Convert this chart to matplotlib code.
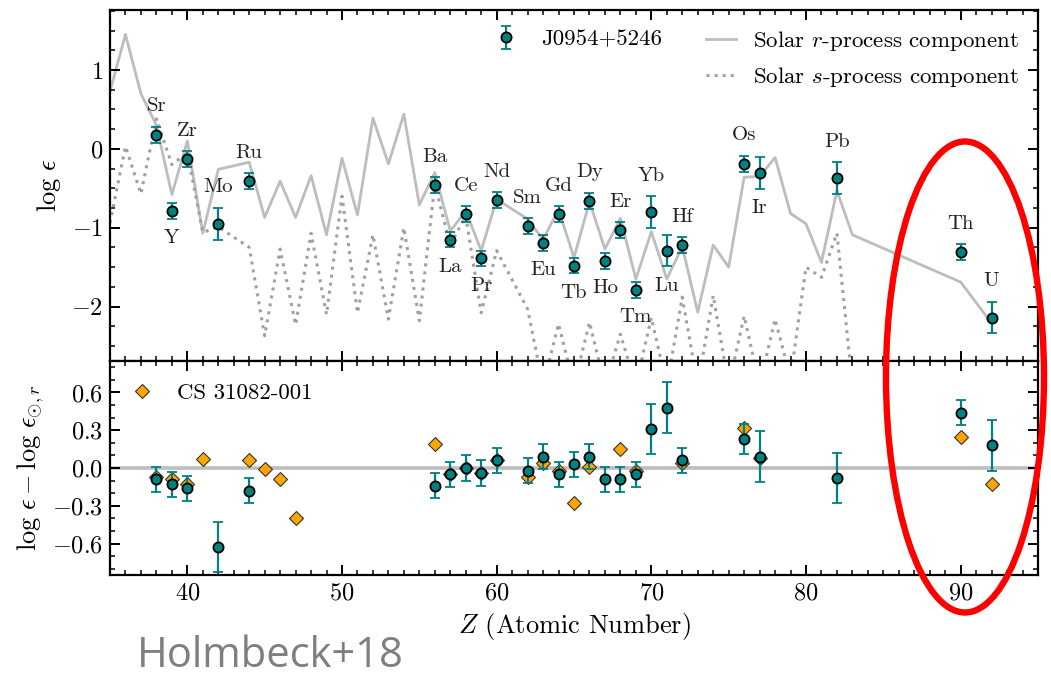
import matplotlib
matplotlib.use('Agg')
import matplotlib.pyplot as plt
import numpy as np
from matplotlib.patches import Ellipse
from matplotlib.ticker import MultipleLocator, FuncFormatter

plt.rcParams['font.family'] = 'serif'
plt.rcParams['font.serif'] = ['cmr10']
plt.rcParams['mathtext.fontset'] = 'cm'
plt.rcParams['axes.formatter.use_mathtext'] = True

# J0954+5246 abundances
elements = ['Sr', 'Y', 'Zr', 'Mo', 'Ru', 'Ba', 'La', 'Ce', 'Pr', 'Nd', 'Sm', 'Eu', 'Gd',
            'Tb', 'Dy', 'Ho', 'Er', 'Tm', 'Yb', 'Lu', 'Hf', 'Os', 'Ir', 'Pb', 'Th', 'U']
z_obs = [38, 39, 40, 42, 44, 56, 57, 58, 59, 60, 62, 63, 64,
         65, 66, 67, 68, 69, 70, 71, 72, 76, 77, 82, 90, 92]
logeps = [0.18, -0.79, -0.13, -0.95, -0.41, -0.46, -1.15, -0.83, -1.39, -0.65, -0.98, -1.19, -0.83,
          -1.48, -0.66, -1.42, -1.03, -1.79, -0.80, -1.29, -1.22, -0.19, -0.31, -0.37, -1.31, -2.14]
logeps_err = [0.1, 0.1, 0.1, 0.2, 0.1, 0.1, 0.1, 0.1, 0.1, 0.1, 0.1, 0.1, 0.1,
              0.1, 0.1, 0.1, 0.1, 0.1, 0.2, 0.2, 0.1, 0.1, 0.2, 0.2, 0.1, 0.2]
label_below = [False, True, False, False, False, False, True, False, True, False, False, True, False,
               True, False, True, False, True, False, True, False, False, True, False, False, False]

# residuals vs solar r-process
resid = [-0.09, -0.13, -0.16, -0.63, -0.18, -0.14, -0.05, 0.00, -0.04, 0.06, -0.02, 0.09, -0.05,
         0.03, 0.09, -0.09, -0.09, -0.05, 0.31, 0.48, 0.06, 0.23, 0.09, -0.08, 0.44, 0.18]
resid_err = [0.1, 0.1, 0.1, 0.2, 0.1, 0.1, 0.1, 0.1, 0.1, 0.1, 0.1, 0.1, 0.1,
             0.1, 0.1, 0.1, 0.1, 0.1, 0.2, 0.2, 0.1, 0.12, 0.2, 0.2, 0.1, 0.2]

# CS 31082-001 residuals
z_cs = [38, 39, 40, 41, 44, 45, 46, 47, 56, 57, 58, 59, 60, 62, 63, 64, 65, 66, 68, 69, 72, 76, 77, 90, 92]
cs_resid = [-0.07, -0.09, -0.13, 0.07, 0.06, -0.01, -0.09, -0.40, 0.19, -0.05, 0.00, -0.04, 0.06,
            -0.07, 0.04, -0.02, -0.28, 0.01, 0.15, -0.02, 0.04, 0.32, 0.08, 0.25, -0.13]

# solar r- and s-process components (scaled)
z_r = [35, 36, 37, 38, 39, 40, 41, 42, 44, 45, 46, 47, 48, 49, 50, 51, 52, 53, 54, 55, 56, 57, 58, 59,
       60, 62, 63, 64, 65, 66, 67, 68, 69, 70, 71, 72, 73, 74, 75, 76, 77, 78, 79, 80, 81, 82, 83, 90, 92]
solar_r = [0.73, 1.45, 0.70, 0.30, -0.58, 0.10, -1.07, -0.26, -0.17, -0.87, -0.41, -0.87, -0.34, -1.09,
           -0.12, -0.84, 0.39, -0.19, 0.44, -0.71, -0.30, -1.04, -0.79, -1.29, -0.64, -0.89, -1.15,
           -0.77, -1.38, -0.67, -1.27, -0.88, -1.65, -1.05, -1.65, -1.24, -2.07, -1.22, -1.50, -0.36,
           -0.35, -0.11, -0.82, -0.95, -1.44, -0.53, -1.09, -1.69, -2.21]
z_s = [35, 36, 37, 38, 39, 40, 41, 42, 44, 45, 46, 47, 48, 49, 50, 51, 52, 53, 54, 55, 56, 57, 58, 59,
       60, 62, 63, 64, 65, 66, 67, 68, 69, 70, 71, 72, 73, 74, 75, 76, 77, 78, 79, 80, 81, 82, 83]
solar_s = [-0.94, 0.03, -0.57, 0.38, -0.20, -0.05, -1.06, -0.99, -1.25, -2.37, -1.27, -2.23, -1.07,
           -2.10, -0.60, -2.08, -1.09, -2.16, -1.00, -2.18, -0.45, -1.22, -0.85, -2.08, -1.29, -2.03,
           -3.0, -2.22, -3.0, -2.20, -3.0, -2.35, -3.0, -2.14, -3.0, -1.88, -3.0, -1.86, -3.0, -2.12,
           -3.0, -2.16, -2.9, -1.50, -1.63, -1.07, -3.0]

teal = '#008080'
W, H = 1051, 677
fig = plt.figure(figsize=(W / 100, H / 100), dpi=100)
ax1 = fig.add_axes([110 / W, 1 - 361 / H, 928 / W, 351 / H])
ax2 = fig.add_axes([110 / W, 1 - 575 / H, 928 / W, 214 / H], sharex=ax1)

lr, = ax1.plot(z_r, solar_r, color='#bdbdbd', lw=2.0, zorder=1)
ls, = ax1.plot(z_s, solar_s, color='#a0a0a0', lw=2.2, ls=':', zorder=1)
eb = ax1.errorbar(z_obs, logeps, yerr=logeps_err, fmt='o', color=teal, mfc=teal, mec='black',
                  mew=1.3, ms=7.3, elinewidth=1.6, capsize=3.5, capthick=1.6, zorder=3)
for el, z, v, e, below in zip(elements, z_obs, logeps, logeps_err, label_below):
    y = v - e - 0.245 if below else v + e + 0.26
    ax1.text(z, y, el, ha='center', va='center', fontsize=15, color='#222222')

ax1.set_xlim(35, 95)
ax1.set_ylim(-2.69, 1.76)
ax1.set_ylabel(r'$\log\,\epsilon$', fontsize=19)
ax1.yaxis.set_label_coords(-0.051, 0.5)

ax2.axhline(0, color='#bdbdbd', lw=2.6, zorder=1)
cs, = ax2.plot(z_cs, cs_resid, 'D', color='orange', mec='#333333', mew=0.8, ms=6.8, zorder=2)
ax2.errorbar(z_obs, resid, yerr=resid_err, fmt='o', color=teal, mfc=teal, mec='black',
             mew=1.3, ms=7.3, elinewidth=1.6, capsize=3.5, capthick=1.6, zorder=3)
ax2.set_ylim(-0.85, 0.85)
ax2.set_ylabel(r'$\log\,\epsilon - \log\,\epsilon_{\odot,r}$', fontsize=19)
ax2.yaxis.set_label_coords(-0.069, 0.5)
ax2.set_xlabel(r'$Z$ (Atomic Number)', fontsize=19, labelpad=5)

fmt = FuncFormatter(lambda v, p: r'$%g$' % round(v, 2) if abs(v) > 1e-9 else r'$0$')
ax1.yaxis.set_major_locator(MultipleLocator(1))
ax1.yaxis.set_minor_locator(MultipleLocator(0.25))
ax1.yaxis.set_major_formatter(fmt)
ax2.yaxis.set_major_locator(MultipleLocator(0.3))
ax2.yaxis.set_minor_locator(MultipleLocator(0.1))
ax2.yaxis.set_major_formatter(FuncFormatter(lambda v, p: r'$%.1f$' % (0.0 if abs(v) < 1e-9 else v)))
ax2.xaxis.set_major_locator(MultipleLocator(10))
ax2.xaxis.set_minor_locator(MultipleLocator(1))
ax2.xaxis.set_major_formatter(FuncFormatter(lambda v, p: r'$%d$' % v))
plt.setp(ax1.get_xticklabels(), visible=False)

for ax in (ax1, ax2):
    for sp in ax.spines.values():
        sp.set_linewidth(1.6)
    ax.tick_params(which='both', direction='in', top=True, right=True, labelsize=17.5, pad=5)
    ax.tick_params(which='major', length=7, width=1.4)
    ax.tick_params(which='minor', length=3.5, width=1.1)

leg1 = ax1.legend([eb], ['J0954+5246'], loc='upper left', frameon=False, fontsize=16.5,
                  handlelength=1.5, handletextpad=0.75, borderaxespad=0,
                  bbox_to_anchor=(480 / W, 1 - 20 / H), bbox_transform=fig.transFigure)
ax1.add_artist(leg1)
ax1.legend([lr, ls], [r'Solar $r$-process component', r'Solar $s$-process component'],
           loc='upper left', frameon=False, fontsize=16.5, handlelength=1.3, handletextpad=0.75,
           labelspacing=0.5, borderaxespad=0,
           bbox_to_anchor=(697 / W, 1 - 20 / H), bbox_transform=fig.transFigure)
ax2.legend([cs], ['CS 31082-001'], loc='upper left', frameon=False, fontsize=16.5,
           handlelength=1.5, handletextpad=0.75, borderaxespad=0,
           bbox_to_anchor=(116 / W, 1 - 374 / H), bbox_transform=fig.transFigure)

fig.add_artist(Ellipse((965 / W, 1 - 377 / H), 158 / W, 471 / H, transform=fig.transFigure,
                       fill=False, ec='red', lw=4.6, clip_on=False, zorder=10))
fig.text(137 / W, 1 - 667 / H, 'Holmbeck+18', family='Open Sans', fontsize=30,
         color='#7f7f7f', ha='left', va='baseline')

fig.savefig('out.png', dpi=100)
